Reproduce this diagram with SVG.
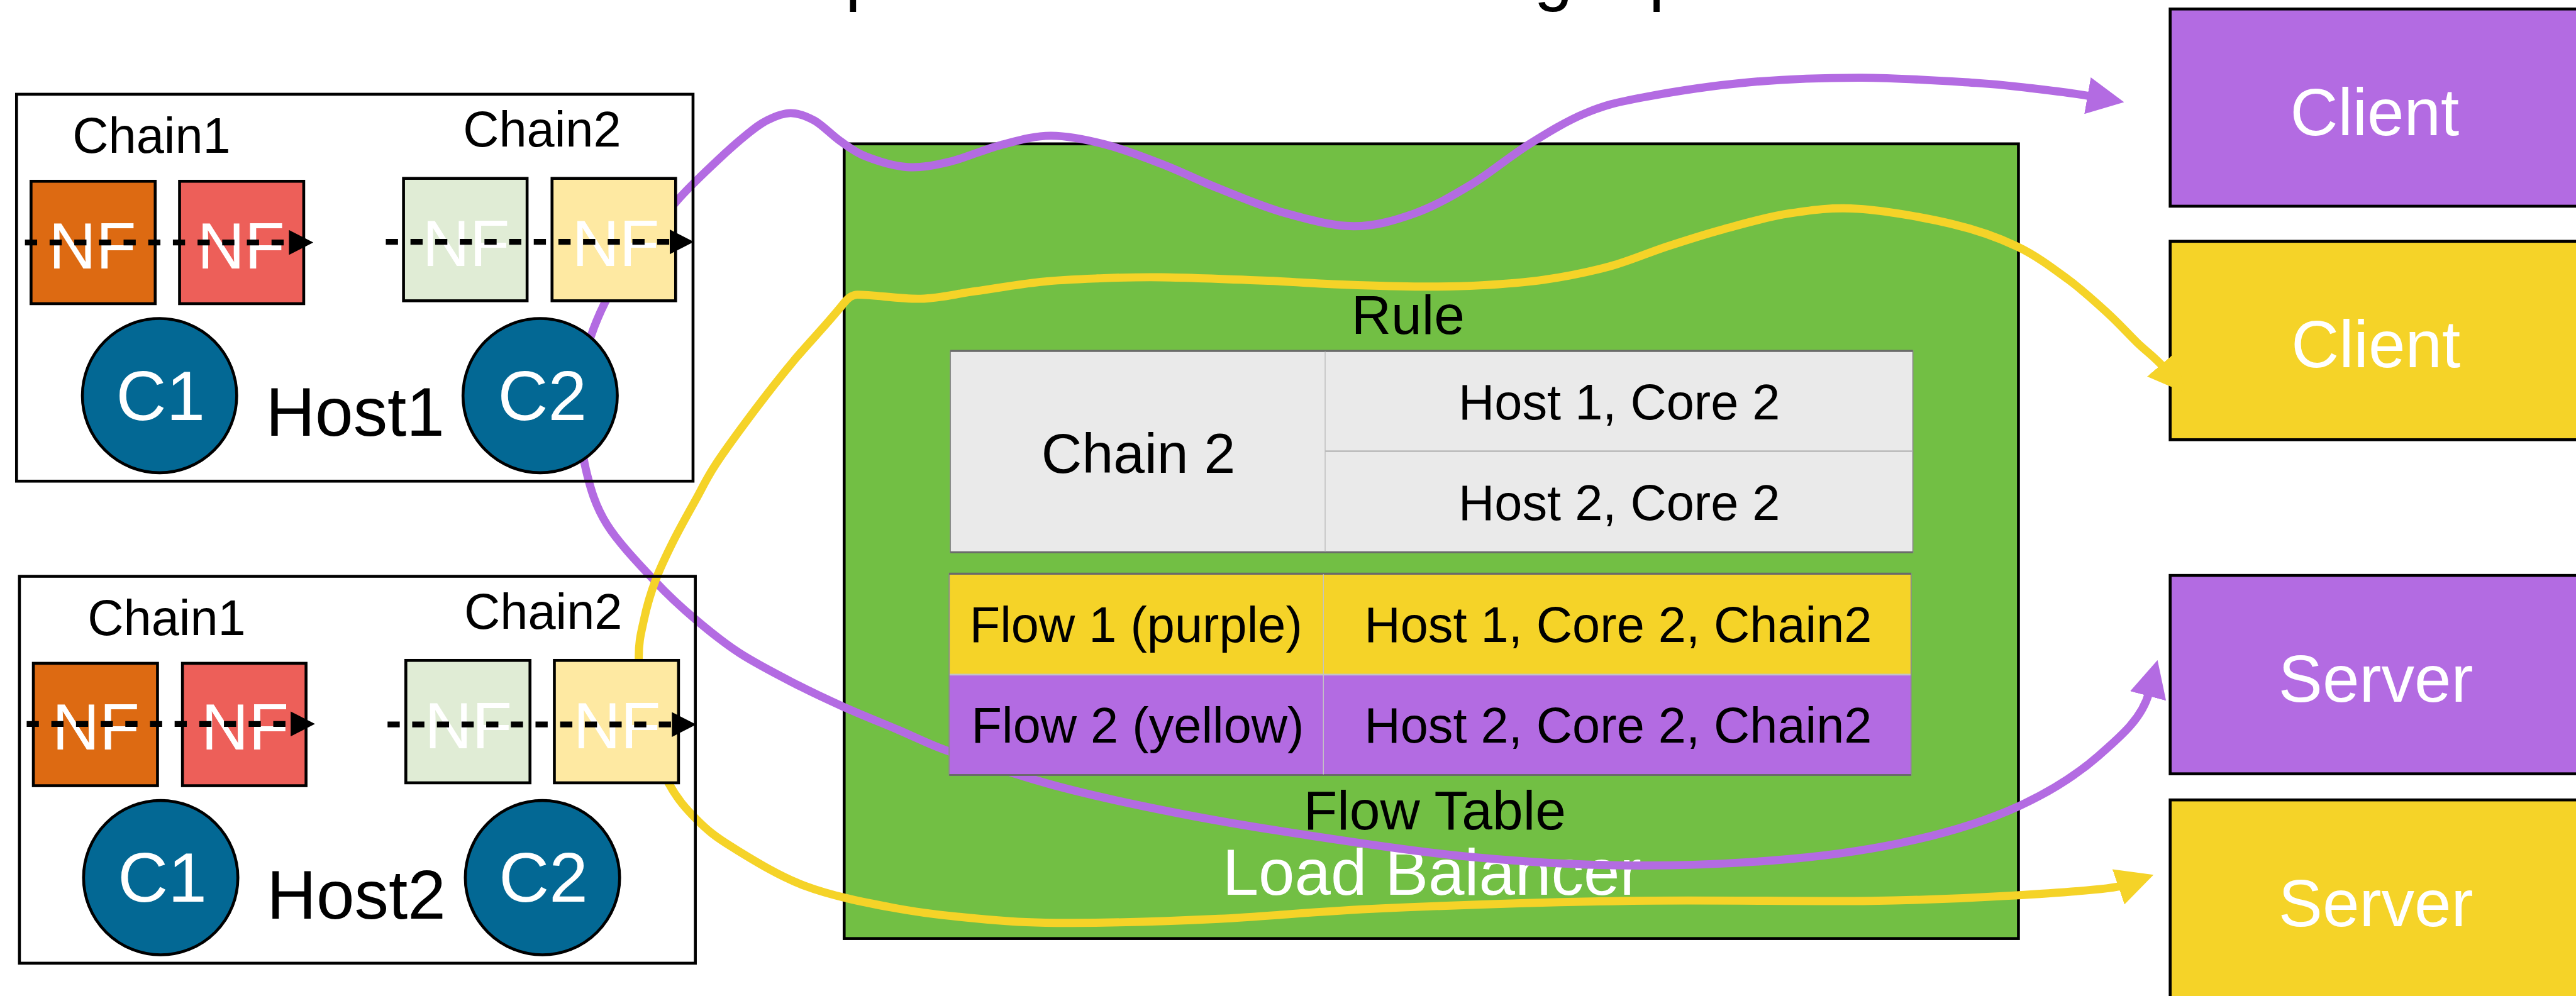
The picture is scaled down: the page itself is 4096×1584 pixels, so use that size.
<svg xmlns="http://www.w3.org/2000/svg" width="4096" height="1584" viewBox="0 0 4096 1584">
  <style>
    text { font-family: "Liberation Sans", Arial, sans-serif; }
    .frame { fill: none; stroke: #000; stroke-width: 5; }
    .nf { stroke: #000; stroke-width: 5; }
    .nft { fill: #fff; font-size: 113px; }
    .core { fill: #036894; stroke: #000; stroke-width: 5; }
    .coret { fill: #fff; font-size: 120px; }
    .lbl { fill: #000; font-size: 86px; }
    .hostt { fill: #000; font-size: 118px; }
    .chain { fill: none; stroke: #000; stroke-width: 10; stroke-dasharray: 21 21.5; }
    .flow { fill: none; stroke-width: 14; stroke-linejoin: round; }
    .end { stroke: #000; stroke-width: 5; }
    .endt { fill: #fff; font-size: 114px; text-anchor: middle; }
    .cell { fill: #000; font-size: 86px; text-anchor: middle; }
    .head { fill: #000; font-size: 95px; text-anchor: middle; }
  </style>
  <defs>
    <marker id="dashHead" viewBox="0 0 42 43" refX="0" refY="21.5" markerWidth="42" markerHeight="43" markerUnits="userSpaceOnUse" orient="auto">
      <path d="M0,0 L42,21.5 L0,43 z" fill="#000"/>
    </marker>
    <marker id="headPurple" viewBox="0 0 64 64" refX="6" refY="32" markerWidth="64" markerHeight="64" markerUnits="userSpaceOnUse" orient="auto-start-reverse">
      <path d="M0,0 L64,32 L0,64 z" fill="#B36BE2"/>
    </marker>
    <marker id="headYellow" viewBox="0 0 64 64" refX="6" refY="32" markerWidth="64" markerHeight="64" markerUnits="userSpaceOnUse" orient="auto-start-reverse">
      <path d="M0,0 L64,32 L0,64 z" fill="#F5D328"/>
    </marker>
  </defs>

  <rect width="4096" height="1584" fill="#fff"/>

  <g transform="scale(0.922523)">
    <!-- heading line above the frame; only its descenders reach the canvas -->
    <g id="heading" font-size="120" fill="#000">
      <text x="1457" y="-4">p</text>
      <text x="2644" y="-4">g</text>
      <text x="2842" y="-4">p</text>
    </g>

    <!-- load balancer body -->
    <g id="lb">
      <rect x="1455" y="248" width="2024" height="1370" fill="#72BF44" stroke="#000" stroke-width="5"/>
      <text x="2468" y="1542" fill="#fff" font-size="112" text-anchor="middle">Load Balancer</text>
    </g>

    <!-- endpoints -->
    <g id="client-purple">
      <rect class="end" x="3740.5" y="15.5" width="760" height="340" fill="#B36BE2"/>
      <text class="endt" x="4093" y="233">Client</text>
    </g>
    <g id="client-yellow">
      <rect class="end" x="3740.5" y="416" width="760" height="342" fill="#F5D328"/>
      <text class="endt" x="4095" y="633">Client</text>
    </g>
    <g id="server-purple">
      <rect class="end" x="3740.5" y="992" width="760" height="342" fill="#B36BE2"/>
      <text class="endt" x="4095" y="1210">Server</text>
    </g>
    <g id="server-yellow">
      <rect class="end" x="3740.5" y="1379" width="760" height="420" fill="#F5D328"/>
      <text class="endt" x="4095" y="1597">Server</text>
    </g>

    <!-- flow paths -->
    <g id="connectors">
      <path id="flow-purple" class="flow" stroke="#B36BE2" marker-start="url(#headPurple)" marker-end="url(#headPurple)"
        d="M3604,166 C3570,160 3533,155.8 3500,152 C3467,148.2 3454.3,146 3406,143 C3357.7,140 3275.5,134.2 3210,134
           C3144.5,133.8 3076.2,136.3 3013,142 C2949.8,147.7 2877.7,159.2 2831,168 C2784.3,176.8 2765.7,181.5 2733,195
           C2700.3,208.5 2667.8,228.5 2635,249 C2602.2,269.5 2568.8,298.2 2536,318 C2503.2,337.8 2471.8,356 2438,368
           C2404.2,380 2370.3,390.2 2333,390 C2295.7,389.8 2252.7,377.8 2214,367 C2175.3,356.2 2136.2,339 2101,325
           C2065.8,311 2035.7,295.7 2003,283 C1970.3,270.3 1937,257.2 1905,249 C1873,240.8 1841,233.8 1811,234
           C1781,234.2 1754.2,242.5 1725,250 C1695.8,257.5 1662.8,272.7 1636,279 C1609.2,285.3 1587.8,289.5 1564,288
           C1540.2,286.5 1512.3,277.5 1493,270 C1473.7,262.5 1462.8,253.3 1448,243 C1433.2,232.7 1418.2,216 1404,208
           C1389.8,200 1376.5,195.2 1363,195 C1349.5,194.8 1335.7,200.8 1323,207 C1310.3,213.2 1301.8,220 1287,232
           C1272.2,244 1254,260 1234,279 C1214,298 1189.3,320.8 1167,346 C1144.7,371.2 1120.7,400.8 1100,430
           C1079.3,459.2 1058,491 1043,521 C1028,551 1017.2,578.5 1010,610 C1002.8,641.5 1000,676.7 1000,710
           C1000,743.3 1002.3,777.7 1010,810 C1017.7,842.3 1026,871.8 1046,904 C1066,936.2 1104.5,975.7 1130,1003
           C1155.5,1030.3 1174.8,1047.5 1199,1068 C1223.2,1088.5 1246.3,1107.5 1275,1126 C1303.7,1144.5 1341,1163.5 1371,1179
           C1401,1194.5 1425.2,1205.7 1455,1219 C1484.8,1232.3 1519.2,1246 1550,1259 C1580.8,1272 1594.8,1281 1640,1297
           C1685.2,1313 1755.8,1337.5 1821,1355 C1886.2,1372.5 1960.8,1388.2 2031,1402 C2101.2,1415.8 2160.2,1425.7 2242,1438
           C2323.8,1450.3 2428.5,1467 2522,1476 C2615.5,1485 2709.3,1491.2 2803,1492 C2896.7,1492.8 3001.2,1488.3 3084,1481
           C3166.8,1473.7 3234.2,1463.2 3300,1448 C3365.8,1432.8 3426.2,1414.2 3479,1390 C3531.8,1365.8 3579.5,1335.7 3617,1303
           C3654.5,1270.3 3692.3,1238.5 3704,1194"/>
      <path id="flow-yellow" class="flow" stroke="#F5D328" marker-start="url(#headYellow)" marker-end="url(#headYellow)"
        d="M3729,633 C3715.4,617 3699,605.5 3683,590 C3667,574.5 3652.7,558 3633,540 C3613.3,522 3591,501.2 3565,482
           C3539,462.8 3510.5,441 3477,425 C3443.5,409 3409.7,396.8 3364,386 C3318.3,375.2 3249.7,363 3203,360
           C3156.3,357 3122.7,362.2 3084,368 C3045.3,373.8 3006.2,385.5 2971,395 C2935.8,404.5 2905.7,414.3 2873,425
           C2840.3,435.7 2810,449.5 2775,459 C2740,468.5 2700.5,476.5 2663,482 C2625.5,487.5 2587.5,490 2550,492
           C2512.5,494 2480,494.3 2438,494 C2396,493.7 2340,491.7 2298,490 C2256,488.3 2235.2,486 2186,484
           C2136.8,482 2052.2,478.7 2003,478 C1953.8,477.3 1926,478.7 1891,480 C1856,481.3 1828,482.3 1793,486
           C1758,489.7 1715.3,497.2 1681,502 C1646.7,506.8 1620.8,514 1587,515 C1553.2,516 1508,508 1478,508
           C1468,508 1460,515.7 1455,522 C1427.7,556.5 1393.7,591.2 1368,622 C1342.3,652.8 1323.3,677.3 1301,707
           C1278.7,736.7 1250.8,774.5 1234,800 C1217.2,825.5 1212,838.3 1200,860 C1188,881.7 1173.7,906.7 1162,930
           C1150.3,953.3 1138.7,977 1130,1000 C1121.3,1023 1114.8,1045.5 1110,1068 C1105.2,1090.5 1100.7,1104.7 1101,1135
           C1101.3,1165.3 1103.3,1214 1112,1250 C1120.7,1286 1138.2,1323.8 1153,1351 C1167.8,1378.2 1182.7,1394.7 1201,1413
           C1219.3,1431.3 1232,1442 1263,1461 C1294,1480 1340.8,1509.7 1387,1527 C1433.2,1544.3 1487.8,1555.3 1540,1565
           C1592.2,1574.7 1648.5,1580.7 1700,1585 C1751.5,1589.3 1782.2,1591.2 1849,1591 C1915.8,1590.8 2012.2,1588.2 2101,1584
           C2189.8,1579.8 2265,1571.2 2382,1566 C2499,1560.8 2662.7,1555.2 2803,1553 C2943.3,1550.8 3113.3,1554.5 3224,1553
           C3334.7,1551.5 3394.8,1548.3 3467,1544 C3539.2,1539.7 3641,1532.5 3657,1527"/>
    </g>

    <!-- rule table -->
    <g id="rule-table">
      <text class="head" x="2427" y="576">Rule</text>
      <rect x="1638" y="605" width="1659" height="347" fill="#EAEAEA" stroke="#8C8C8C" stroke-width="2"/>
      <line x1="1638" y1="605" x2="3297" y2="605" stroke="#6A6A6A" stroke-width="3.5"/>
      <line x1="1638" y1="952" x2="3297" y2="952" stroke="#6A6A6A" stroke-width="3.5"/>
      <line x1="2284" y1="606" x2="2284" y2="951" stroke="#BDBDBD" stroke-width="1.5"/>
      <line x1="2284" y1="778" x2="3296" y2="778" stroke="#BDBDBD" stroke-width="3"/>
      <text x="1962" y="815" fill="#000" font-size="97" text-anchor="middle">Chain 2</text>
      <text class="cell" x="2791" y="723">Host 1, Core 2</text>
      <text class="cell" x="2791" y="896">Host 2, Core 2</text>
    </g>

    <!-- flow table -->
    <g id="flow-table">
      <rect x="1636" y="989" width="1658" height="174" fill="#F5D328"/>
      <rect x="1636" y="1163" width="1658" height="173" fill="#B36BE2"/>
      <rect x="1636" y="989" width="1658" height="347" fill="none" stroke="#8C8C8C" stroke-width="2"/>
      <line x1="1636" y1="989" x2="3294" y2="989" stroke="#6A6A6A" stroke-width="3.5"/>
      <line x1="1636" y1="1336" x2="3294" y2="1336" stroke="#6A6A6A" stroke-width="3.5"/>
      <line x1="1637" y1="1163" x2="3293" y2="1163" stroke="#C4C4C4" stroke-width="3"/>
      <line x1="2281" y1="990" x2="2281" y2="1335" stroke="#C4C4C4" stroke-width="1.5"/>
      <text class="cell" x="1958" y="1107">Flow 1 (purple)</text>
      <text class="cell" x="2789" y="1107">Host 1, Core 2, Chain2</text>
      <text class="cell" x="1961" y="1280">Flow 2 (yellow)</text>
      <text class="cell" x="2789" y="1280">Host 2, Core 2, Chain2</text>
      <text class="head" x="2473" y="1430">Flow Table</text>
    </g>

    <!-- host 1 -->
    <g id="host1">
      <rect class="frame" x="28.5" y="162.5" width="1166" height="667"/>
      <text class="lbl" x="125" y="263">Chain1</text>
      <text class="lbl" x="798" y="253">Chain2</text>
      <rect class="nf" x="53.5" y="312.5" width="214" height="211" fill="#DD6A12"/>
      <rect class="nf" x="309.5" y="312.5" width="214" height="211" fill="#ED5F59"/>
      <rect class="nf" x="695.5" y="307.5" width="213" height="211" fill="#E0ECD5"/>
      <rect class="nf" x="951.5" y="307.5" width="213" height="211" fill="#FEE9A2"/>
      <text class="nft" x="84" y="463">NF</text>
      <text class="nft" x="340" y="463">NF</text>
      <text class="nft" x="728" y="458">NF</text>
      <text class="nft" x="986" y="458">NF</text>
      <circle class="core" cx="275" cy="682" r="133"/>
      <circle class="core" cx="931" cy="682" r="133"/>
      <text class="coret" x="200" y="724">C1</text>
      <text class="coret" x="858" y="724">C2</text>
      <text class="hostt" x="458" y="751">Host1</text>
    </g>

    <!-- host 2 -->
    <g id="host2">
      <rect class="frame" x="33.5" y="993.5" width="1165" height="667"/>
      <text class="lbl" x="151" y="1095">Chain1</text>
      <text class="lbl" x="800" y="1084">Chain2</text>
      <rect class="nf" x="57.5" y="1143.5" width="214" height="211" fill="#DD6A12"/>
      <rect class="nf" x="314.5" y="1143.5" width="213" height="211" fill="#ED5F59"/>
      <rect class="nf" x="699.5" y="1138.5" width="214" height="211" fill="#E0ECD5"/>
      <rect class="nf" x="955.5" y="1138.5" width="214" height="211" fill="#FEE9A2"/>
      <text class="nft" x="90" y="1292">NF</text>
      <text class="nft" x="347" y="1292">NF</text>
      <text class="nft" x="732" y="1290">NF</text>
      <text class="nft" x="988" y="1290">NF</text>
      <circle class="core" cx="277" cy="1513" r="133"/>
      <circle class="core" cx="935" cy="1513" r="133"/>
      <text class="coret" x="203" y="1554">C1</text>
      <text class="coret" x="860" y="1554">C2</text>
      <text class="hostt" x="460" y="1584">Host2</text>
    </g>

    <!-- packet path through each chain -->
    <g id="chain-arrows">
      <line class="chain" x1="43" y1="418" x2="498" y2="418" marker-end="url(#dashHead)"/>
      <line class="chain" x1="665" y1="417" x2="1154" y2="417" marker-end="url(#dashHead)"/>
      <line class="chain" x1="46" y1="1248" x2="501" y2="1248" marker-end="url(#dashHead)"/>
      <line class="chain" x1="668" y1="1249" x2="1158" y2="1249" marker-end="url(#dashHead)"/>
    </g>
  </g>
</svg>
